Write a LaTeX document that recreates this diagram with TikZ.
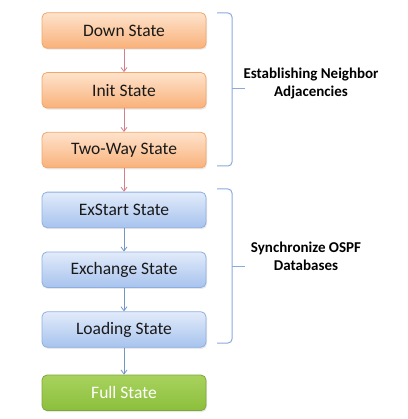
\documentclass[tikz,border=0pt]{standalone}
\usepackage{fontspec}
\setmainfont{Carlito}
\usetikzlibrary{positioning,shadows,arrows.meta}

\definecolor{orline}{HTML}{F2A66A}
\definecolor{ortop}{HTML}{FEE3CC}
\definecolor{orbot}{HTML}{F9B17A}
\definecolor{blline}{HTML}{8DB0E0}
\definecolor{bltop}{HTML}{E2EBFA}
\definecolor{blbot}{HTML}{A7C3EE}
\definecolor{grline}{HTML}{7FA83A}
\definecolor{grtop}{HTML}{A8D25E}
\definecolor{grbot}{HTML}{8CBF3C}
\definecolor{redarrow}{HTML}{D4808A}
\definecolor{bluearrow}{HTML}{7395C8}
\definecolor{bracecol}{HTML}{8AAADB}

\tikzset{
  statebox/.style={rectangle, rounded corners=5pt, minimum width=164pt,
    minimum height=35.5pt, inner sep=0pt, line width=0.8pt,
    font=\fontsize{17.5}{19}\selectfont, text=black!90,
    drop shadow={opacity=0.18, shadow xshift=1pt, shadow yshift=-1.5pt}},
  orangebox/.style={statebox, draw=orline, top color=ortop, bottom color=orbot},
  bluebox/.style={statebox, draw=blline, top color=bltop, bottom color=blbot},
  greenbox/.style={statebox, draw=grline, top color=grtop, bottom color=grbot, text=white},
  redarr/.style={draw=redarrow, line width=0.8pt, -{Straight Barb[length=4pt,width=6pt]}},
  bluearr/.style={draw=bluearrow, line width=0.8pt, -{Straight Barb[length=4pt,width=6pt]}},
  bracket/.style={draw=bracecol, line width=1pt, rounded corners=4pt},
  phase/.style={font=\fontsize{15}{18}\selectfont\bfseries, align=center, text=black}
}

\begin{document}
\begin{tikzpicture}[x=1pt, y=-1pt, node distance=23.5pt]
    \useasboundingbox (0,0) rectangle (407,419);

    \node[orangebox] (down) at (124,30.5) {Down State};
    \node[orangebox, below=of down] (init) {Init State};
    \node[orangebox, below=of init] (twoway) {Two-Way State};
    \node[bluebox, below=of twoway] (exstart) {ExStart State};
    \node[bluebox, below=of exstart] (exchange) {Exchange State};
    \node[bluebox, below=of exchange] (loading) {Loading State};
    \node[greenbox, below=27pt of loading] (full) {Full State};

    \draw[redarr] (down) -- (init);
    \draw[redarr] (init) -- (twoway);
    \draw[redarr] (twoway) -- (exstart);
    \draw[bluearr] (exstart) -- (exchange);
    \draw[bluearr] (exchange) -- (loading);
    \draw[bluearr] (loading) -- (full);

    % brackets on the right
    \draw[bracket] (217,13) -- (232,13) -- (232,89) -- (232,166) -- (217,166);
    \draw[draw=bracecol, line width=1pt] (232,89) -- (245,89);
    \draw[bracket] (217,189) -- (232,189) -- (232,266) -- (232,343) -- (217,343);
    \draw[draw=bracecol, line width=1pt] (232,266) -- (245,266);

    \node[phase] (neighbor) at (311,84) {Establishing Neighbor\\Adjacencies};
    \node[phase] (sync) at (306,256) {Synchronize OSPF\\Databases};
\end{tikzpicture}
\end{document}
